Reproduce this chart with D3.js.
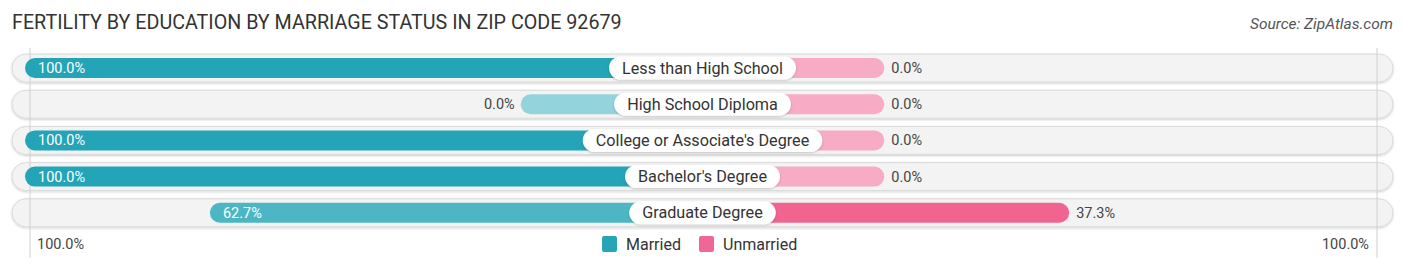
<!DOCTYPE html>
<html>
<head>
<meta charset="utf-8">
<script src="https://cdn.jsdelivr.net/npm/d3@7"></script>
<style>
  html, body { margin: 0; padding: 0; background: #fff; }
  body { font-family: Roboto, "Open Sans", sans-serif; }
</style>
</head>
<body>
<div id="chart"></div>
<script>
// Fertility by education by marriage status, zip 92679
const categories = ["Less than High School", "High School Diploma", "College or Associate's Degree", "Bachelor's Degree", "Graduate Degree"];
const married    = [100.0, 0.0, 100.0, 100.0, 62.7];
const unmarried  = [0.0, 0.0, 0.0, 0.0, 37.3];
const seriesNames = ["Married", "Unmarried"];
const axisLabels = ["100.0%", "100.0%"];

const width = 1406, height = 269;
const cx = 702.5;          // centre of the diverging bars
const rowY0 = 68, rowStep = 36.2;

const svg = d3.select("#chart").append("svg")
    .attr("width", width).attr("height", height);

const defs = svg.append("defs");
const sh = defs.append("filter").attr("id", "sh").attr("x", "-5%").attr("y", "-30%").attr("width", "110%").attr("height", "160%");
sh.append("feDropShadow").attr("dx", 0).attr("dy", 1).attr("stdDeviation", 1).attr("flood-color", "#000").attr("flood-opacity", 0.2);

// bar length from centre: a stub for 0 plus a linear part
const len = d3.scaleLinear().domain([0, 100]).range([181.8, 677.5]);
const y = d3.scaleLinear().domain([0, 1]).range([rowY0, rowY0 + rowStep]);

const mColor = d3.scaleLinear().domain([0, d3.max(married)]).range(["#93d3db", "#24a4b7"]).interpolate(d3.interpolateRgb);
const uColor = d3.scaleLinear().domain([0, d3.max(unmarried)]).range(["#f7abc4", "#f0648f"]).interpolate(d3.interpolateRgb);

// title
svg.append("text").attr("x", 12).attr("y", 29)
    .style("font-size", "19.7px").style("fill", "#333")
    .text("FERTILITY BY EDUCATION BY MARRIAGE STATUS IN ZIP CODE 92679");
svg.append("text").attr("x", 1393).attr("y", 29)
    .attr("text-anchor", "end")
    .style("font-size", "15.5px").style("font-style", "italic").style("fill", "#555")
    .text("Source: ZipAtlas.com");

// background pills
const rows = categories.map((c, i) => ({ cat: c, m: married[i], u: unmarried[i], i }));
svg.selectAll("rect.bg").data(rows).join("rect").attr("class", "bg")
    .attr("x", 12).attr("y", d => y(d.i) - 14)
    .attr("width", 1381).attr("height", 28).attr("rx", 14)
    .attr("fill", "#f3f3f3").attr("stroke", "#dadada").attr("stroke-width", 1)
    .attr("filter", "url(#sh)");

// guide lines at +-100%
[cx - 672.5, cx + 674.5].forEach(x => {
    svg.append("line").attr("x1", x).attr("x2", x).attr("y1", 48).attr("y2", 258)
        .attr("stroke", "#d0d0d0").attr("stroke-width", 1);
});

// married bars (to the left)
svg.selectAll("rect.m").data(rows).join("rect").attr("class", "m")
    .attr("x", d => cx - len(d.m)).attr("y", d => y(d.i) - 10)
    .attr("width", d => len(d.m)).attr("height", 20).attr("rx", 10)
    .attr("fill", d => mColor(d.m));

// unmarried bars (to the right)
svg.selectAll("rect.u").data(rows).join("rect").attr("class", "u")
    .attr("x", cx).attr("y", d => y(d.i) - 10)
    .attr("width", d => len(d.u)).attr("height", 20).attr("rx", 10)
    .attr("fill", d => uColor(d.u));

// value labels
const fmt = v => v.toFixed(1) + "%";
svg.selectAll("text.mv").data(rows).join("text").attr("class", "mv")
    .attr("x", d => d.m > 50 ? cx - len(d.m) + 13 : cx - len(d.m) - 6)
    .attr("y", d => y(d.i) + 5)
    .attr("text-anchor", d => d.m > 50 ? "start" : "end")
    .style("font-size", "14.5px")
    .style("fill", d => d.m > 50 ? "#fff" : "#444")
    .text(d => fmt(d.m));
svg.selectAll("text.uv").data(rows).join("text").attr("class", "uv")
    .attr("x", d => d.u > 50 ? cx + len(d.u) - 13 : cx + len(d.u) + 7)
    .attr("y", d => y(d.i) + 5)
    .attr("text-anchor", d => d.u > 50 ? "end" : "start")
    .style("font-size", "14.5px")
    .style("fill", d => d.u > 50 ? "#fff" : "#444")
    .text(d => fmt(d.u));

// category labels in white pills
const lab = svg.selectAll("g.lab").data(rows).join("g").attr("class", "lab")
    .attr("transform", d => `translate(${cx},${y(d.i)})`);
lab.append("text").attr("text-anchor", "middle").attr("y", 5.5)
    .style("font-size", "16.2px").style("fill", "#333")
    .text(d => d.cat);
lab.each(function() {
    const g = d3.select(this);
    const w = g.select("text").node().getComputedTextLength() + 26;
    g.insert("rect", "text").attr("x", -w / 2).attr("y", -11.5)
        .attr("width", w).attr("height", 23).attr("rx", 11.5)
        .attr("fill", "#fff").attr("filter", "url(#sh)");
});

// bottom axis labels
svg.append("text").attr("x", 37).attr("y", 249)
    .style("font-size", "14.5px").style("fill", "#444").text(axisLabels[0]);
svg.append("text").attr("x", 1369).attr("y", 249).attr("text-anchor", "end")
    .style("font-size", "14.5px").style("fill", "#444").text(axisLabels[1]);

// legend
const legend = [
    { name: seriesNames[0], color: "#26a5b8", x: 602 },
    { name: seriesNames[1], color: "#f06793", x: 699 }
];
const lg = svg.selectAll("g.leg").data(legend).join("g").attr("class", "leg")
    .attr("transform", d => `translate(${d.x},236)`);
lg.append("rect").attr("width", 15).attr("height", 16).attr("rx", 2).attr("fill", d => d.color);
lg.append("text").attr("x", 24).attr("y", 13.5)
    .style("font-size", "16px").style("fill", "#333").text(d => d.name);
</script>
</body>
</html>
